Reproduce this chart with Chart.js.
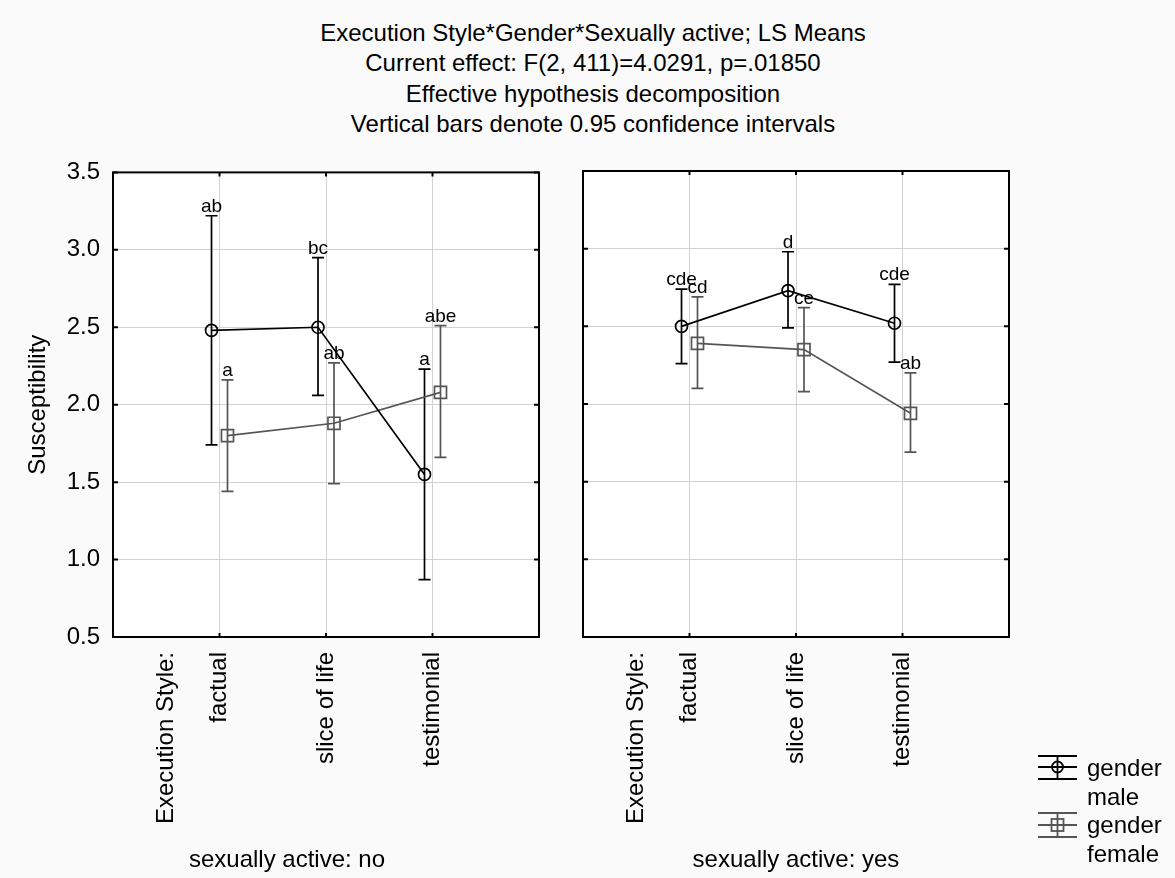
<!DOCTYPE html>
<html>
<head>
<meta charset="utf-8">
<script src="https://cdn.jsdelivr.net/npm/chart.js@4.4.1/dist/chart.umd.min.js"></script>
<style>
  body { margin: 0; background: #fafafa; font-family: Arial, "Liberation Sans", sans-serif; color: #000; }
  #wrap { position: relative; width: 1175px; height: 878px; overflow: hidden; }
  #title { position: absolute; left: 0; top: 18px; width: 1186px; text-align: center; font-size: 24px; line-height: 30.4px; }
  canvas { position: absolute; }
  .sub { position: absolute; width: 300px; text-align: center; font-size: 24px; line-height: 28px; top: 845px; }
  #legendText { position: absolute; left: 1087px; top: 754px; font-size: 24px; line-height: 28.6px; }
  #legendIcons { position: absolute; left: 1030px; top: 745px; }
</style>
</head>
<body>
<div id="wrap">
  <div id="title">
    Execution Style*Gender*Sexually active; LS Means<br>
    Current effect: F(2, 411)=4.0291, p=.01850<br>
    Effective hypothesis decomposition<br>
    Vertical bars denote 0.95 confidence intervals
  </div>
  <canvas id="panelNo" width="560" height="733" style="left:0; top:145px;"></canvas>
  <canvas id="panelYes" width="615" height="733" style="left:560px; top:145px;"></canvas>
  <div class="sub" style="left:137px;">sexually active: no</div>
  <div class="sub" style="left:646px;">sexually active: yes</div>
  <svg id="legendIcons" width="60" height="100">
    <g stroke="#000" stroke-width="1.8" fill="none">
      <line x1="8" y1="11" x2="47" y2="11"/>
      <line x1="8" y1="22" x2="47" y2="22"/>
      <line x1="8" y1="34" x2="47" y2="34"/>
      <line x1="27.5" y1="11" x2="27.5" y2="34"/>
      <circle cx="27.5" cy="22" r="5.5"/>
    </g>
    <g stroke="#555" stroke-width="1.8" fill="none">
      <line x1="8" y1="68" x2="47" y2="68"/>
      <line x1="8" y1="80" x2="47" y2="80"/>
      <line x1="8" y1="92" x2="47" y2="92"/>
      <line x1="27.5" y1="68" x2="27.5" y2="92"/>
      <rect x="21.5" y="74" width="12" height="12"/>
    </g>
  </svg>
  <div id="legendText">gender<br>male<br>gender<br>female</div>
</div>

<script>
'use strict';

/* Data: LS means and 0.95 confidence limits */
var styles = ['factual', 'slice of life', 'testimonial'];
var styleAxisLabel = 'Execution Style:';

var maleNoMean = [2.48, 2.50, 1.55];
var maleNoLow = [1.74, 2.06, 0.87];
var maleNoHigh = [3.22, 2.95, 2.23];
var maleNoLetters = ['ab', 'bc', 'a'];

var femaleNoMean = [1.80, 1.88, 2.08];
var femaleNoLow = [1.44, 1.49, 1.66];
var femaleNoHigh = [2.16, 2.27, 2.51];
var femaleNoLetters = ['a', 'ab', 'abe'];

var maleYesMean = [2.50, 2.73, 2.52];
var maleYesLow = [2.26, 2.49, 2.27];
var maleYesHigh = [2.74, 2.98, 2.77];
var maleYesLetters = ['cde', 'd', 'cde'];

var femaleYesMean = [2.39, 2.35, 1.94];
var femaleYesLow = [2.10, 2.08, 1.69];
var femaleYesHigh = [2.69, 2.62, 2.20];
var femaleYesLetters = ['cd', 'ce', 'ab'];

var yMin = 0.5, yMax = 3.5, yStep = 0.5;

var FONT = 'Arial, "Liberation Sans", sans-serif';
Chart.defaults.font.family = FONT;
Chart.defaults.font.size = 24;
Chart.defaults.color = '#000';

// small sideways shift so the two genders do not overlap
var SHIFT = 0.075;

function points(means, shift) {
  return means.map(function (m, i) { return { x: i + shift, y: m }; });
}

function series(label, means, low, high, letters, shift, color, style, radius) {
  return {
    label: label,
    data: points(means, shift),
    low: low,
    high: high,
    letters: letters,
    showLine: true,
    borderColor: color,
    borderWidth: 1.7,
    pointStyle: style,
    pointRadius: radius,
    pointBorderColor: color,
    pointBorderWidth: 1.7,
    pointBackgroundColor: 'rgba(0,0,0,0)'
  };
}

/* white panel, error bars, letters, frame and inner ticks */
var panelPlugin = {
  id: 'panel',
  beforeDraw: function (chart) {
    var a = chart.chartArea, ctx = chart.ctx;
    ctx.save();
    ctx.fillStyle = '#fff';
    ctx.fillRect(a.left, a.top, a.right - a.left, a.bottom - a.top);
    ctx.restore();
  },
  beforeDatasetsDraw: function (chart) {
    var ctx = chart.ctx, xs = chart.scales.x, ys = chart.scales.y;
    ctx.save();
    chart.data.datasets.forEach(function (ds) {
      ctx.strokeStyle = ds.borderColor;
      ctx.lineWidth = 1.7;
      ds.data.forEach(function (p, i) {
        var x = xs.getPixelForValue(p.x);
        var top = ys.getPixelForValue(ds.high[i]);
        var bot = ys.getPixelForValue(ds.low[i]);
        ctx.beginPath();
        ctx.moveTo(x, top); ctx.lineTo(x, bot);
        ctx.moveTo(x - 6, top); ctx.lineTo(x + 6, top);
        ctx.moveTo(x - 6, bot); ctx.lineTo(x + 6, bot);
        ctx.stroke();
      });
    });
    ctx.restore();
  },
  afterDatasetsDraw: function (chart) {
    var ctx = chart.ctx, xs = chart.scales.x, ys = chart.scales.y;
    ctx.save();
    ctx.font = '19px ' + FONT;
    ctx.fillStyle = '#000';
    ctx.textAlign = 'center';
    ctx.textBaseline = 'alphabetic';
    chart.data.datasets.forEach(function (ds) {
      ds.data.forEach(function (p, i) {
        ctx.fillText(ds.letters[i], xs.getPixelForValue(p.x), ys.getPixelForValue(ds.high[i]) - 4);
      });
    });
    ctx.restore();
  },
  afterDraw: function (chart) {
    var a = chart.chartArea, ctx = chart.ctx, xs = chart.scales.x, ys = chart.scales.y;
    ctx.save();
    ctx.strokeStyle = '#000';
    ctx.lineWidth = 2;
    ctx.strokeRect(a.left, a.top, a.right - a.left, a.bottom - a.top);
    ctx.beginPath();
    ys.ticks.forEach(function (t) {
      var y = ys.getPixelForValue(t.value);
      ctx.moveTo(a.left, y); ctx.lineTo(a.left + 5, y);
      ctx.moveTo(a.right, y); ctx.lineTo(a.right - 5, y);
    });
    styles.forEach(function (s, i) {
      var x = xs.getPixelForValue(i);
      ctx.moveTo(x, a.top); ctx.lineTo(x, a.top + 4);
      ctx.moveTo(x, a.bottom); ctx.lineTo(x, a.bottom - 4);
    });
    ctx.stroke();
    ctx.restore();
  }
};

function makePanel(id, datasets, showY, yWidth, padTop, padRight) {
  var ctx = document.getElementById(id).getContext('2d');
  return new Chart(ctx, {
    type: 'scatter',
    data: { datasets: datasets },
    plugins: [panelPlugin],
    options: {
      responsive: false,
      animation: false,
      layout: { padding: { top: padTop, right: padRight, bottom: 0, left: 0 } },
      plugins: { legend: { display: false }, tooltip: { enabled: false } },
      scales: {
        x: {
          type: 'linear',
          min: -1,
          max: 3,
          afterBuildTicks: function (scale) {
            scale.ticks = [{ value: -0.5 }].concat(styles.map(function (s, i) { return { value: i }; }));
          },
          afterFit: function (scale) { scale.height = 241; },
          ticks: {
            autoSkip: false,
            minRotation: 90,
            maxRotation: 90,
            padding: 15,
            callback: function (v) { return v < 0 ? styleAxisLabel : styles[v]; }
          },
          grid: {
            drawTicks: false,
            lineWidth: 1,
            color: function (c) { return c.tick && c.tick.value < 0 ? 'rgba(0,0,0,0)' : '#d2d2d2'; }
          },
          border: { display: false }
        },
        y: {
          min: yMin,
          max: yMax,
          afterFit: function (scale) { scale.width = yWidth; },
          ticks: {
            display: showY,
            stepSize: yStep,
            padding: 13,
            callback: function (v) { return v.toFixed(1); }
          },
          grid: { drawTicks: false, color: '#d2d2d2', lineWidth: 1 },
          border: { display: false },
          title: {
            display: showY,
            text: 'Susceptibility',
            padding: { top: 24, bottom: 0 }
          }
        }
      }
    }
  });
}

makePanel('panelNo', [
  series('gender male', maleNoMean, maleNoLow, maleNoHigh, maleNoLetters, -SHIFT, '#000', 'circle', 6),
  series('gender female', femaleNoMean, femaleNoLow, femaleNoHigh, femaleNoLetters, SHIFT, '#555', 'rect', 8.5)
], true, 113, 21, 21);

makePanel('panelYes', [
  series('gender male', maleYesMean, maleYesLow, maleYesHigh, maleYesLetters, -SHIFT, '#000', 'circle', 6),
  series('gender female', femaleYesMean, femaleYesLow, femaleYesHigh, femaleYesLetters, SHIFT, '#555', 'rect', 8.5)
], false, 23, 26, 166);
</script>
</body>
</html>
